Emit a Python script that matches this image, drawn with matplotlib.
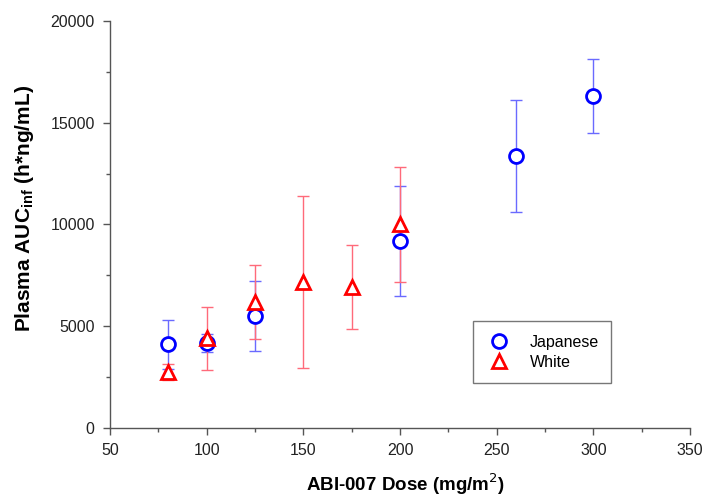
import matplotlib
matplotlib.use("Agg")
import matplotlib.pyplot as plt
from matplotlib.ticker import MultipleLocator

plt.rcParams['font.family'] = ['Liberation Sans', 'DejaVu Sans']

jp_dose = [80, 100, 125, 200, 260, 300]
jp_auc = [4100, 4160, 5500, 9200, 13350, 16300]
jp_sd = [1200, 450, 1720, 2700, 2750, 1830]

wh_dose = [80, 100, 125, 150, 175, 200]
wh_auc = [2750, 4400, 6180, 7170, 6930, 10000]
wh_sd = [400, 1560, 1820, 4230, 2050, 2820]

fig = plt.figure(figsize=(7.05, 4.97), dpi=100)
ax = fig.add_axes([0.156, 0.139, 0.823, 0.819])

ax.errorbar(jp_dose, jp_auc, yerr=jp_sd, fmt='none', ecolor='#6a6aff',
            elinewidth=1.0, capsize=4.5, capthick=1.0, zorder=2)
ax.errorbar(wh_dose, wh_auc, yerr=wh_sd, fmt='none', ecolor='#ff6a7a',
            elinewidth=1.0, capsize=4.5, capthick=1.0, zorder=2)
ax.plot(jp_dose, jp_auc, linestyle='none', marker='o', markersize=10,
        markerfacecolor='white', markeredgecolor='#0000ff', markeredgewidth=2,
        label='Japanese', zorder=3)
ax.plot(wh_dose, wh_auc, linestyle='none', marker='^', markersize=10,
        markerfacecolor='white', markeredgecolor='#ff0000', markeredgewidth=2,
        label='White', zorder=4)

ax.set_xlim(50, 350)
ax.set_ylim(0, 20000)
ax.xaxis.set_major_locator(MultipleLocator(50))
ax.xaxis.set_minor_locator(MultipleLocator(25))
ax.yaxis.set_major_locator(MultipleLocator(5000))
ax.yaxis.set_minor_locator(MultipleLocator(2500))

for s in ['top', 'right']:
    ax.spines[s].set_visible(False)
for s in ['left', 'bottom']:
    ax.spines[s].set_color('#555555')
    ax.spines[s].set_linewidth(1.0)

ax.tick_params(which='major', direction='out', length=5, width=1, color='#555555',
               labelsize=11.5, labelcolor='#222222', pad=6)
ax.tick_params(which='minor', direction='out', length=3, width=1, color='#555555')

ax.set_xlabel('ABI-007 Dose (mg/m$^2$)', fontsize=13.5, fontweight='bold')
ax.set_ylabel('Plasma AUC$_{\\mathregular{inf}}$ (h*ng/mL)', fontsize=15,
              fontweight='bold')
ax.yaxis.set_label_coords(-0.128, 0.54)
ax.xaxis.set_label_coords(0.509, -0.106)

leg = ax.legend(loc='lower left', bbox_to_anchor=(0.626, 0.11, 0.238, 0.157),
                mode='expand', borderaxespad=0, fontsize=11.5, frameon=True,
                fancybox=False, handletextpad=1.2, borderpad=0.85,
                labelspacing=0.3, handlelength=1.5)
leg.get_frame().set_edgecolor('#555555')
leg.get_frame().set_linewidth(1.0)

fig.savefig('out.png', dpi=100)
